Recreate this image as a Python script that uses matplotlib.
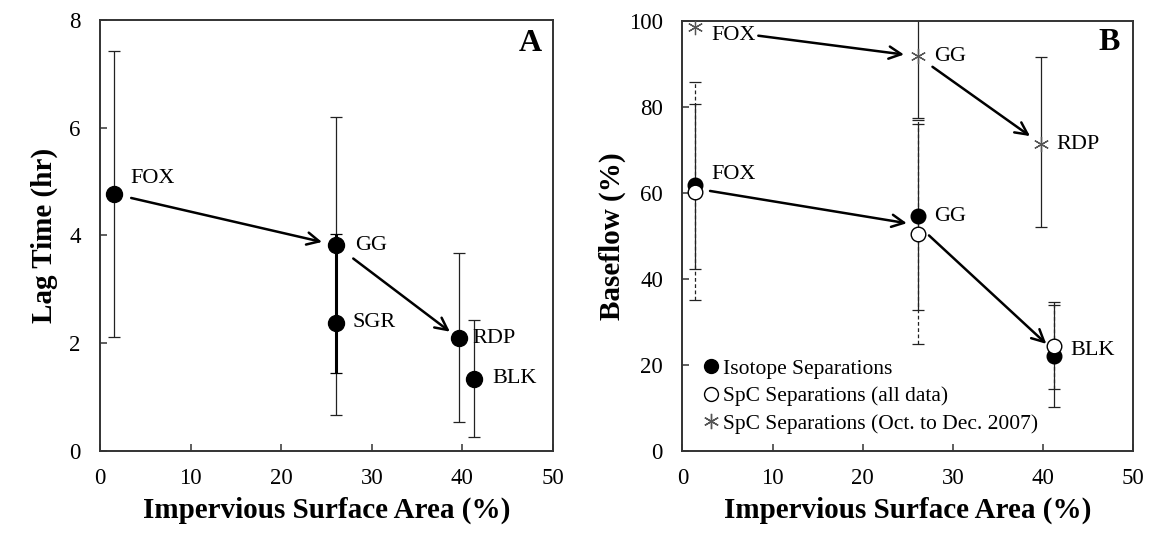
import matplotlib
matplotlib.use('Agg')
import matplotlib.pyplot as plt
from matplotlib.lines import Line2D
import numpy as np

plt.rcParams['font.family'] = ['Liberation Serif', 'DejaVu Serif']

# panel A: lag time
sites_a = ['FOX', 'GG', 'SGR', 'RDP', 'BLK']
isa_a = [1.5, 26.0, 26.0, 39.6, 41.3]
lag = [4.77, 3.82, 2.38, 2.09, 1.34]
lag_hi = [7.43, 6.19, 4.03, 3.68, 2.43]
lag_lo = [2.11, 0.67, 1.44, 0.54, 0.26]

# panel B: baseflow
sites_b = ['FOX', 'GG', 'BLK']
isa_b = [1.4, 26.1, 41.2]
iso = [61.8, 54.6, 22.1]
iso_hi = [80.7, 75.9, 34.6]
iso_lo = [42.4, 32.8, 10.2]
spc = [60.2, 50.4, 24.4]
spc_hi = [85.8, 77.0, 34.0]
spc_lo = [35.2, 24.9, 14.3]

sites_oct = ['FOX', 'GG', 'RDP']
isa_oct = [1.4, 26.1, 39.8]
spc_oct = [98.4, 91.7, 71.3]
oct_hi = [np.nan, 110.0, 91.6]
oct_lo = [np.nan, 77.3, 52.1]

TICK_FS = 16.5
LABEL_FS = 21
SITE_FS = 16
SPINE = '#333333'


def err(vals, hi, lo):
    vals, hi, lo = map(np.asarray, (vals, hi, lo))
    return [vals - lo, hi - vals]


def style_axis(ax, ylabel, ylim, yticks, labelpad):
    ax.set_xlim(0, 50)
    ax.set_ylim(*ylim)
    ax.set_xticks(range(0, 51, 10))
    ax.set_yticks(yticks)
    ax.tick_params(direction='in', length=5, width=1.1, color=SPINE, labelsize=TICK_FS)
    ax.tick_params(axis='x', pad=12)
    ax.tick_params(axis='y', pad=14)
    for s in ax.spines.values():
        s.set_linewidth(1.4)
        s.set_color(SPINE)
    ax.set_xlabel('Impervious Surface Area (%)', fontsize=LABEL_FS, fontweight='bold', labelpad=6)
    ax.set_ylabel(ylabel, fontsize=LABEL_FS, fontweight='bold', labelpad=labelpad)


def arrow(ax, p0, p1, sa, sb):
    ax.annotate('', xy=p1, xytext=p0,
                arrowprops=dict(arrowstyle='->', lw=1.8, color='black',
                                mutation_scale=22, shrinkA=sa, shrinkB=sb))


fig = plt.figure(figsize=(11.52, 5.34), dpi=100)
ax_a = fig.add_axes([0.0868, 0.1554, 0.3932, 0.8075])
ax_b = fig.add_axes([0.5923, 0.1554, 0.3915, 0.8060])

# ---- panel A ----
thin = [0, 1, 3, 4]
ax_a.errorbar([isa_a[i] for i in thin], [lag[i] for i in thin],
              yerr=err([lag[i] for i in thin], [lag_hi[i] for i in thin], [lag_lo[i] for i in thin]),
              fmt='none', ecolor='#222222', elinewidth=0.9, capsize=4, capthick=0.9)
ax_a.errorbar([isa_a[2]], [lag[2]], yerr=err([lag[2]], [lag_hi[2]], [lag_lo[2]]),
              fmt='none', ecolor='black', elinewidth=2.2, capsize=4, capthick=0.9)
ax_a.plot(isa_a, lag, 'o', color='black', markersize=11.5, zorder=5)

offs_a = {'FOX': (12, 11), 'GG': (14, 0), 'SGR': (12, 0), 'RDP': (10, 0), 'BLK': (13, 0)}
for s, x, y in zip(sites_a, isa_a, lag):
    ax_a.annotate(s, (x, y), xytext=offs_a[s], textcoords='offset points',
                  ha='left', va='center', fontsize=SITE_FS)

arrow(ax_a, (isa_a[0], lag[0]), (isa_a[1], lag[1]), 13, 10)
arrow(ax_a, (isa_a[1], lag[1]), (isa_a[3], lag[3]), 16, 8)

ax_a.text(0.975, 0.945, 'A', transform=ax_a.transAxes, ha='right', va='center',
          fontsize=23, fontweight='bold')
style_axis(ax_a, 'Lag Time (hr)', (0, 8), range(0, 9, 2), 8)

# ---- panel B ----
e = ax_b.errorbar(isa_b, spc, yerr=err(spc, spc_hi, spc_lo), fmt='none', ecolor='#222222',
                  elinewidth=0.9, capsize=4, capthick=0.9)
e[2][0].set_linestyle((0, (3, 2)))
ax_b.errorbar(isa_b, iso, yerr=err(iso, iso_hi, iso_lo), fmt='none', ecolor='#222222',
              elinewidth=0.9, capsize=4, capthick=0.9)
ax_b.errorbar(isa_oct, spc_oct, yerr=err(spc_oct, oct_hi, oct_lo), fmt='none', ecolor='#222222',
              elinewidth=0.9, capsize=4, capthick=0.9)

ax_b.plot(isa_b, iso, 'o', color='black', markersize=10.5, zorder=5)
ax_b.plot(isa_b, spc, 'o', markerfacecolor='white', markeredgecolor='black',
          markeredgewidth=1.0, markersize=10.5, zorder=6)
ax_b.plot(isa_oct, spc_oct, linestyle='none', marker=(6, 2, 0), color='#555555',
          markersize=11, markeredgewidth=0.9, zorder=6)

offs_oct = {'FOX': (11.5, -6), 'GG': (12, 0), 'RDP': (11, 0)}
for s, x, y in zip(sites_oct, isa_oct, spc_oct):
    ax_b.annotate(s, (x, y), xytext=offs_oct[s], textcoords='offset points',
                  ha='left', va='center', fontsize=SITE_FS)

mid = [(a + b) / 2 for a, b in zip(iso, spc)]
offs_b = {'FOX': (12, 10), 'GG': (11.5, 0), 'BLK': (12, 0)}
label_y = {'FOX': mid[0], 'GG': iso[1], 'BLK': mid[2]}
for s, x in zip(sites_b, isa_b):
    ax_b.annotate(s, (x, label_y[s]), xytext=offs_b[s], textcoords='offset points',
                  ha='left', va='center', fontsize=SITE_FS)

arrow(ax_b, (isa_oct[0], spc_oct[0]), (isa_oct[1], spc_oct[1]), 46, 10)
arrow(ax_b, (isa_oct[1], spc_oct[1]), (isa_oct[2], spc_oct[2]), 13, 10)
arrow(ax_b, (isa_b[0], mid[0]), (isa_b[1], mid[1]), 11, 8)
arrow(ax_b, (isa_b[1], mid[1]), (isa_b[2], mid[2]), 11, 7.5)

handles = [
    Line2D([], [], linestyle='none', marker='o', color='black', markersize=10),
    Line2D([], [], linestyle='none', marker='o', markerfacecolor='white',
           markeredgecolor='black', markersize=10),
    Line2D([], [], linestyle='none', marker=(6, 2, 0), color='#555555', markersize=11),
]
ax_b.legend(handles, ['Isotope Separations', 'SpC Separations (all data)',
                      'SpC Separations (Oct. to Dec. 2007)'],
            loc='lower left', bbox_to_anchor=(0.035, 0.025), frameon=False,
            fontsize=15.5, handlelength=0.6, handletextpad=0.25, labelspacing=0.35,
            borderaxespad=0.2, borderpad=0.1)

ax_b.text(0.969, 0.949, 'B', transform=ax_b.transAxes, ha='right', va='center',
          fontsize=23, fontweight='bold')
style_axis(ax_b, 'Baseflow (%)', (0, 100), range(0, 101, 20), 2)

fig.savefig('out.png', dpi=100)
